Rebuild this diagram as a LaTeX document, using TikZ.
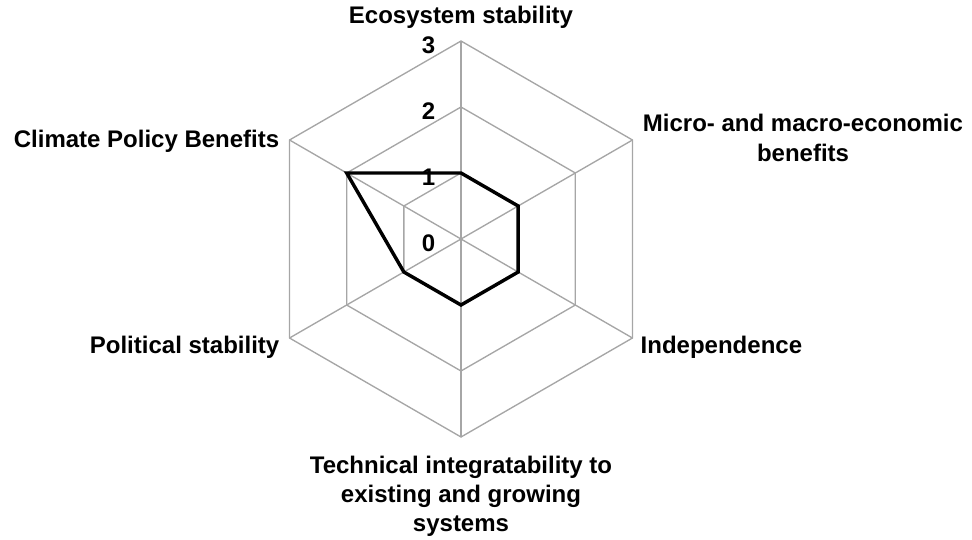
\documentclass[tikz,border=0pt]{standalone}
\usepackage{fontspec}
\setmainfont{Liberation Sans}
\newlength{\du}
\setlength{\du}{15\unitlength}
\tikzset{axislabel/.style={inner sep=0pt, font=\fontsize{24}{29}\selectfont\bfseries}}

\begin{document}
\begin{tikzpicture}
\pgftransformxscale{1.000000}
\pgftransformyscale{-1.000000}
\useasboundingbox (0.000000\du,0.000000\du) rectangle (64.800000\du,35.933333\du);
\definecolor{dialinecolor}{rgb}{0.650000, 0.650000, 0.650000}
\pgfsetstrokecolor{dialinecolor}
\definecolor{dialinecolor}{rgb}{1.000000, 1.000000, 1.000000}
\pgfsetfillcolor{dialinecolor}
\pgfsetlinewidth{0.090000\du}
\pgfsetmiterjoin
% grid level 1
\definecolor{dialinecolor}{rgb}{0.650000, 0.650000, 0.650000}
\pgfsetstrokecolor{dialinecolor}
\draw (30.733333\du,11.533333\du)--(34.543833\du,13.733333\du)--(34.543833\du,18.133333\du)--(30.733333\du,20.333333\du)--(26.922833\du,18.133333\du)--(26.922833\du,13.733333\du)--cycle;
% grid level 2
\draw (30.733333\du,7.133333\du)--(38.354333\du,11.533333\du)--(38.354333\du,20.333333\du)--(30.733333\du,24.733333\du)--(23.112333\du,20.333333\du)--(23.112333\du,11.533333\du)--cycle;
% grid level 3
\draw (30.733333\du,2.733333\du)--(42.164833\du,9.333333\du)--(42.164833\du,22.533333\du)--(30.733333\du,29.133333\du)--(19.301833\du,22.533333\du)--(19.301833\du,9.333333\du)--cycle;
% spokes
\draw (30.733333\du,2.733333\du)--(30.733333\du,29.133333\du);
\draw (42.164833\du,9.333333\du)--(19.301833\du,22.533333\du);
\draw (42.164833\du,22.533333\du)--(19.301833\du,9.333333\du);
% values
\pgfsetlinewidth{0.230000\du}
\definecolor{dialinecolor}{rgb}{0.000000, 0.000000, 0.000000}
\pgfsetstrokecolor{dialinecolor}
\draw (30.733333\du,11.533333\du)--(34.543833\du,13.733333\du)--(34.543833\du,18.133333\du)--(30.733333\du,20.333333\du)--(26.922833\du,18.133333\du)--(23.112333\du,11.533333\du)--cycle;
% setfont left to latex
\definecolor{dialinecolor}{rgb}{0.000000, 0.000000, 0.000000}
\pgfsetstrokecolor{dialinecolor}
\node[axislabel, anchor=base east] (tick3) at (29.133333\du,3.533333\du){3};
\node[axislabel, anchor=base east] (tick2) at (29.133333\du,7.933333\du){2};
\node[axislabel, anchor=base east] (tick1) at (29.133333\du,12.333333\du){1};
\node[axislabel, anchor=base east] (tick0) at (29.133333\du,16.733333\du){0};
% setfont left to latex
\node[axislabel, anchor=base] (ecosys) at (30.733333\du,1.533333\du){Ecosystem stability};
\node[axislabel, anchor=base] (econa) at (53.533333\du,8.733333\du){Micro- and macro-economic};
\node[axislabel, anchor=base] (econb) at (53.533333\du,10.733333\du){benefits};
\node[axislabel, anchor=base west] (indep) at (42.600000\du,23.533333\du){Independence};
\node[axislabel, anchor=base] (techa) at (30.733333\du,31.533333\du){Technical integratability to};
\node[axislabel, anchor=base] (techb) at (30.733333\du,33.466667\du){existing and growing};
\node[axislabel, anchor=base] (techc) at (30.733333\du,35.400000\du){systems};
\node[axislabel, anchor=base east] (polit) at (18.733333\du,23.533333\du){Political stability};
\node[axislabel, anchor=base east] (climate) at (18.733333\du,9.800000\du){Climate Policy Benefits};
\end{tikzpicture}
\end{document}
